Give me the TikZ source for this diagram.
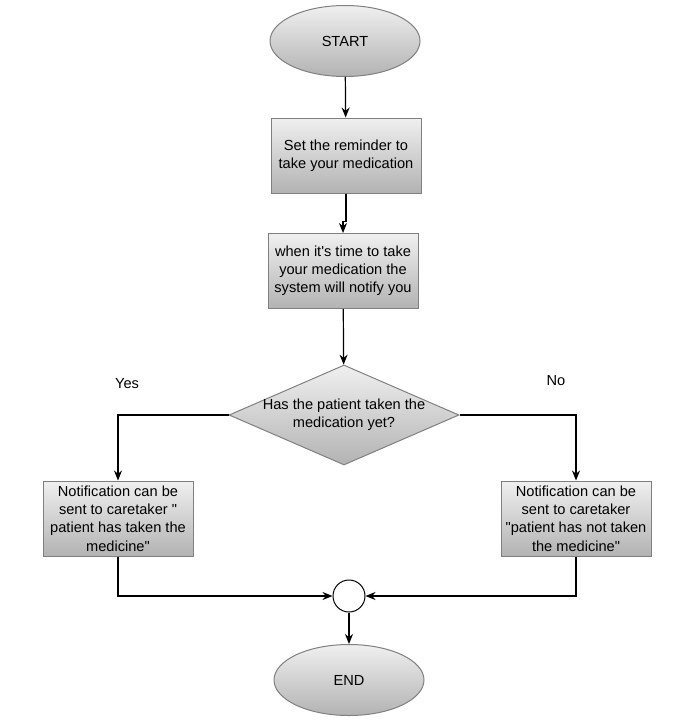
\documentclass[tikz,border=0pt]{standalone}
\usepackage{fontspec}
\setmainfont{Liberation Sans}[Ligatures=TeXOff]
\usetikzlibrary{shapes.geometric,arrows.meta}
\begin{document}
\begin{tikzpicture}[x=1pt,y=-1pt,
  txt/.style={font=\fontsize{14.6}{18.2}\selectfont, align=center},
  shade/.style={top color=white!94!black, bottom color=white!70!black, draw=black!50, line width=1pt},
  term/.style={shade, ellipse, minimum width=150pt, minimum height=71pt, inner sep=0pt, txt},
  proc/.style={shade, rectangle, minimum width=150pt, minimum height=75pt, inner sep=1pt, txt},
  dec/.style={shade, diamond, minimum width=230pt, minimum height=100pt, inner sep=0pt},
  junc/.style={circle, draw=black, fill=white, line width=1pt, minimum size=32pt, inner sep=0pt},
  arr/.style={draw=black, line width=1.2pt, -{Stealth[length=10pt,width=8pt]}},
  lbl/.style={txt}
]
\useasboundingbox (0,0) rectangle (689,720);
\node[term] (start) at (345,41) {START};
\node[proc] (b1) at (346,155.5) {Set the reminder to\\take your medication};
\node[proc] (b2) at (343,271) {when it's time to take\\your medication the\\system will notify you};
\node[dec, label={[txt]center:Has the patient taken the\\medication yet?}] (d) at (344,415) {};
\node[proc] (ly) at (118,518.5) {Notification can be\\sent to caretaker "\\patient has taken the\\medicine"};
\node[proc] (ry) at (576,518.5) {Notification can be\\sent to caretaker\\"patient has not taken\\the medicine"};
\node[junc] (c) at (349,596) {};
\node[term] (end) at (349,680) {END};
\node[lbl] (yes) at (127,384) {Yes};
\node[lbl] (no) at (556,381) {No};
\draw[arr] (start) -- (b1);
\draw[arr] (b1.south) -- ++(0,28) -| (b2.north);
\draw[arr] (b2) -- (d);
\draw[arr] (d.west) -| (ly.north);
\draw[arr] (d.east) -| (ry.north);
\draw[arr] (ly.south) |- (c.west);
\draw[arr] (ry.south) |- (c.east);
\draw[arr] (c) -- (end);
\end{tikzpicture}
\end{document}
